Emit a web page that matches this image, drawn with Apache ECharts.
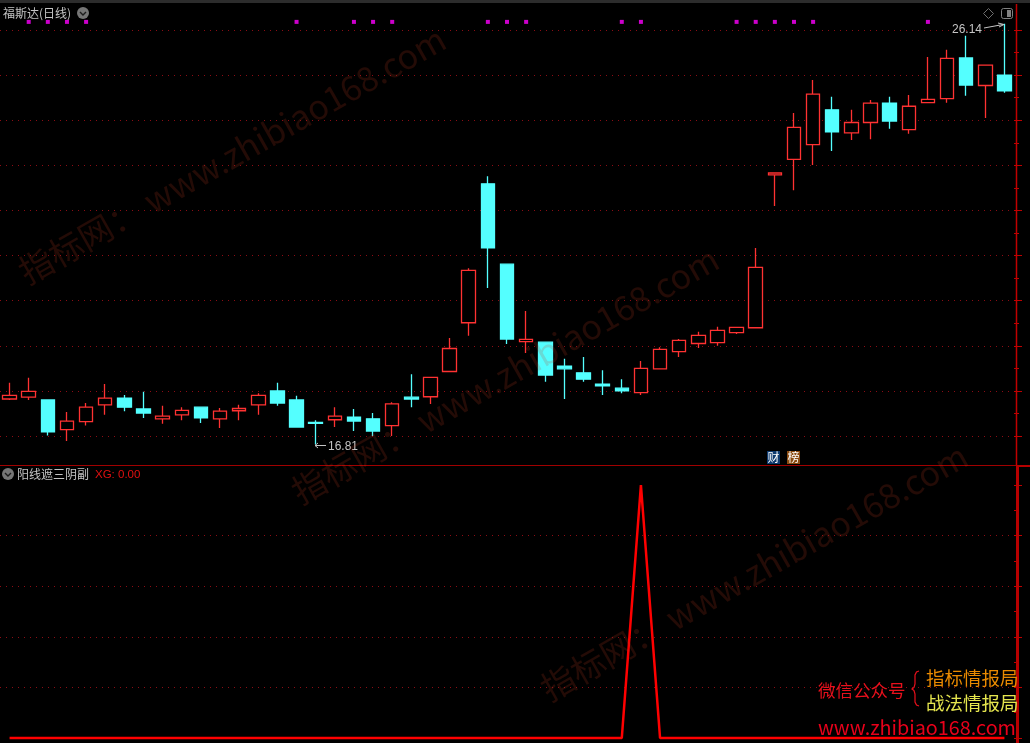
<!DOCTYPE html>
<html><head><meta charset="utf-8">
<style>html,body{margin:0;padding:0;background:#000}#c{width:1030px;height:743px}</style>
<script src="https://cdn.jsdelivr.net/npm/echarts@6/dist/echarts.min.js"></script>
</head><body><div id="c"></div>
<script>
const opens =[17.82,17.86,17.80,17.14,17.32,17.69,17.84,17.60,17.38,17.47,17.64,17.38,17.56,17.69,18.00,17.80,17.30,17.36,17.42,17.38,17.23,17.86,17.87,18.43,19.51,22.59,20.81,19.09,19.08,18.55,18.40,18.15,18.06,17.96,18.49,18.87,19.05,19.07,19.29,19.40,22.79,23.13,23.46,24.23,23.72,23.95,24.38,23.79,24.39,24.48,25.38,24.77,25.00];
const closes=[17.90,17.99,17.09,17.33,17.64,17.84,17.64,17.51,17.44,17.57,17.40,17.55,17.61,17.90,17.73,17.20,17.28,17.44,17.33,17.11,17.71,17.82,18.30,18.94,20.67,21.17,19.15,19.14,18.35,18.49,18.26,18.11,18.00,18.50,18.92,19.12,19.23,19.34,19.41,20.74,22.83,23.84,24.58,23.74,23.95,24.38,23.98,24.31,24.46,25.37,24.78,25.22,24.65];
const lows  =[17.80,17.80,17.01,16.89,17.23,17.47,17.55,17.40,17.27,17.35,17.29,17.18,17.35,17.47,17.67,17.20,16.81,17.20,17.11,17.00,17.00,17.64,17.71,18.43,19.22,20.28,19.04,18.84,18.20,17.82,18.20,17.91,17.95,17.91,18.49,18.75,18.95,19.00,19.26,19.40,22.10,22.45,23.01,23.32,23.56,23.58,23.81,23.70,24.39,24.39,24.54,24.05,24.61];
const highs =[18.18,18.29,17.80,17.53,17.73,18.15,17.91,17.98,17.67,17.64,17.64,17.62,17.69,17.95,18.18,17.89,17.35,17.64,17.60,17.51,17.75,18.37,18.30,19.17,20.72,22.76,20.81,19.77,19.08,18.71,18.75,18.46,18.26,18.66,18.97,19.15,19.31,19.42,19.41,21.17,22.83,24.16,24.89,24.52,24.23,24.45,24.52,24.56,25.40,25.56,25.87,25.22,26.14];
const xg    =[0,0,0,0,0,0,0,0,0,0,0,0,0,0,0,0,0,0,0,0,0,0,0,0,0,0,0,0,0,0,0,0,0,1,0,0,0,0,0,0,0,0,0,0,0,0,0,0,0,0,0,0,0];
const signalIndexes=[1,2,3,4,15,18,19,20,25,26,27,32,33,38,39,40,41,42,48];
const signalLevel=26.18;
const categories=opens.map((_,i)=>'K'+(i+1));
const candleData=opens.map((o,i)=>[o,closes[i],lows[i],highs[i]]);
const signalData=signalIndexes.map(i=>[i,signalLevel]);

const UP='#ff3232',DOWN='#54ffff',AX='#c00000',GRID='#8c0c14',TXT='#c4c4c4';
const CJK='"Noto Sans CJK SC","Noto Sans",sans-serif';
const watermark='指标网： www.zhibiao168.com';
const wm=(x,y)=>({type:'text',x,y,rotation:0.515,z:100,silent:true,
  style:{text:watermark,fill:'rgba(190,60,30,0.19)',font:'34px '+CJK,align:'center',verticalAlign:'middle'}});
const txt=(x,y,text,fill,font,align)=>({type:'text',x,y,z:50,silent:true,
  style:{text,fill,font,align:align||'left',verticalAlign:'middle'}});
const line=(pts,stroke,w,z)=>({type:'polyline',z:z||40,silent:true,shape:{points:pts},style:{stroke,lineWidth:w,fill:null}});
const chevron=(cx,cy)=>[
  {type:'circle',z:40,silent:true,shape:{cx,cy,r:6},style:{fill:'#767676'}},
  line([[cx-3,cy-1],[cx,cy+2],[cx+3,cy-1]],'#1c1c1c',1.4,41)];

const option={
  backgroundColor:'#000',animation:false,
  grid:[{left:-2,width:1016,top:30,height:406},{left:-2,width:1016,top:485,height:253}],
  xAxis:[0,1].map(g=>({type:'category',gridIndex:g,data:categories,boundaryGap:true,
    axisLine:{show:false},axisTick:{show:false},axisLabel:{show:false},splitLine:{show:false}})),
  yAxis:[
   {type:'value',gridIndex:0,position:'right',min:17,max:26,interval:1,scale:true,
    axisLine:{show:false},axisLabel:{show:false},
    axisTick:{show:true,length:8,lineStyle:{color:AX,width:1}},
    minorTick:{show:true,splitNumber:2,length:5,lineStyle:{color:AX,width:1}},
    splitLine:{show:true,lineStyle:{color:GRID,type:[1,5],width:1}}},
   {type:'value',gridIndex:1,position:'right',min:0,max:1,interval:0.2,
    axisLine:{show:false},axisLabel:{show:false},
    axisTick:{show:true,length:8,lineStyle:{color:AX,width:1}},
    minorTick:{show:true,splitNumber:2,length:5,lineStyle:{color:AX,width:1}},
    splitLine:{show:true,showMinLine:false,showMaxLine:false,lineStyle:{color:GRID,type:[1,5],width:1}}}
  ],
  series:[
   {type:'candlestick',name:'福斯达',xAxisIndex:0,yAxisIndex:0,data:candleData,barWidth:14,clip:false,
    itemStyle:{color:'#000',color0:DOWN,borderColor:UP,borderColor0:DOWN,borderWidth:1.3}},
   {type:'scatter',name:'signal',xAxisIndex:0,yAxisIndex:0,data:signalData,symbol:'rect',symbolSize:4,clip:false,
    itemStyle:{color:'#ff00ff'}},
   {type:'line',name:'XG',xAxisIndex:1,yAxisIndex:1,data:xg,symbol:'none',clip:false,
    lineStyle:{color:'#ff0000',width:2.5}}
  ],
  graphic:[
   {type:'rect',z:30,silent:true,shape:{x:0,y:0,width:1030,height:3},style:{fill:'#2c2c2c'}},
   line([[1016.5,4],[1016.5,466]],AX,1.5),
   line([[1017.5,466],[1017.5,743]],'#b80000',3),
   line([[0,465.5],[1016,465.5]],'#a00000',1),
   line([[1016,466],[1030,466]],'#b80000',2),
   txt(3,13,'福斯达(日线)',TXT,'12px '+CJK),
   ...chevron(83,13),
   ...chevron(8,474),
   txt(17,474.5,'阳线遮三阴副',TXT,'12px '+CJK),
   txt(95,474.5,'XG: 0.00','#e01010','11.5px "Liberation Sans",sans-serif'),
   {type:'polygon',z:40,silent:true,shape:{points:[[988.5,8.5],[993.5,13.5],[988.5,18.5],[983.5,13.5]]},style:{stroke:'#6e6e6e',fill:null,lineWidth:1}},
   {type:'rect',z:40,silent:true,shape:{x:1001.5,y:8.5,width:11,height:10,r:2},style:{stroke:'#808080',fill:null,lineWidth:1}},
   {type:'rect',z:40,silent:true,shape:{x:1007,y:10,width:4,height:7},style:{fill:'#808080'}},
   txt(952,30,'26.14',TXT,'12px "Liberation Sans",sans-serif'),
   line([[984,28],[1003,24.5]],TXT,1),
   line([[998,23],[1004,24.5],[999,27]],TXT,1),
   txt(328,446.5,'16.81',TXT,'12px "Liberation Sans",sans-serif'),
   line([[315,445.5],[326,445.5]],TXT,1),
   line([[318,443],[315,445.5],[318,448]],TXT,1),
   {type:'rect',z:45,silent:true,shape:{x:767,y:451,width:13,height:13},style:{fill:'#0e3a6e'}},
   txt(767.5,457.5,'财','#fff','12px '+CJK),
   {type:'rect',z:45,silent:true,shape:{x:787,y:451,width:13,height:13},style:{fill:'#8a4a10'}},
   txt(787.5,457.5,'榜','#fff','12px '+CJK),
   txt(818,690,'微信公众号','#e8101c','17.5px '+CJK),
   line([[919,671],[916.5,672],[915,675],[915,684],[914,687.5],[912,689],[914,690.5],[915,694],[915,702],[916.5,705],[919,706]],'#e8101c',1.2),
   txt(926,678,'指标情报局','#ea8a00','18.5px '+CJK),
   txt(926,703,'战法情报局','#e6e64e','18.5px '+CJK),
   txt(818,727,'www.zhibiao168.com','#e8001a','19.8px '+CJK),
   wm(232,155),wm(505,375),wm(754,572)
  ]
};
const chart=echarts.init(document.getElementById('c'),null,{renderer:'canvas'});
chart.setOption(option);
</script></body></html>
